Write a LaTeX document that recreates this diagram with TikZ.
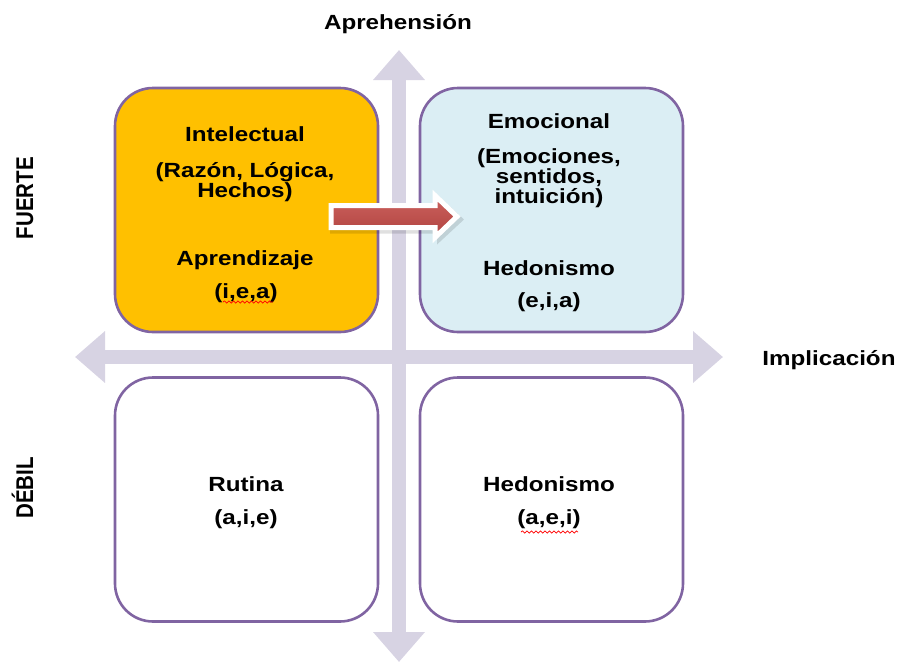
\documentclass[tikz,border=0pt]{standalone}
\usepackage{fontspec}
\setmainfont{Liberation Sans}[FakeStretch=1.18]
\newfontfamily\plainsans{Liberation Sans}
\usetikzlibrary{arrows.meta,decorations.pathmorphing}

\definecolor{boxline}{RGB}{128,100,162}
\definecolor{gold}{RGB}{255,192,0}
\definecolor{paleblue}{RGB}{219,238,244}
\definecolor{axisgray}{RGB}{215,211,227}
\definecolor{arrowred}{RGB}{192,80,77}
\definecolor{arrowredtop}{RGB}{204,98,94}
\definecolor{arrowredbot}{RGB}{176,66,63}

\tikzset{
  quad/.style={draw=boxline, line width=2.6pt, rounded corners=38pt,
               minimum width=263pt, minimum height=244pt, inner sep=0pt},
  txt/.style={font=\bfseries\fontsize{20.5}{22}\selectfont, anchor=base, inner sep=0pt},
  sidetxt/.style={font=\plainsans\bfseries\fontsize{20.5}{22}\selectfont,
                  rotate=90, anchor=base, inner sep=0pt},
  axis/.style={draw=axisgray, line width=14pt,
               {Triangle[length=30pt,width=50pt]}-{Triangle[length=30pt,width=50pt]}},
  squiggle/.style={draw=red, line width=0.7pt, decorate,
                   decoration={snake, amplitude=1.1pt, segment length=4.5pt}},
}

\begin{document}
\begin{tikzpicture}[x=1pt,y=-1pt]
  \useasboundingbox (0,0) rectangle (900,662);

  % the two axes
  \coordinate (vtop) at (399,50);
  \coordinate (vbot) at (399,662);
  \coordinate (hleft) at (75,357);
  \coordinate (hright) at (723,357);
  \draw[axis] (vtop) -- (vbot);
  \draw[axis] (hleft) -- (hright);

  % the four quadrants
  \node[quad, fill=gold]     (tl) at (246.5,210) {};
  \node[quad, fill=paleblue] (tr) at (551.5,210) {};
  \node[quad, fill=white]    (bl) at (246.5,499.5) {};
  \node[quad, fill=white]    (br) at (551.5,499.5) {};

  % axis labels
  \node[txt] (aprehension) at (398,29) {Aprehensión};
  \node[txt] (implicacion) at (829,365) {Implicación};
  \node[sidetxt] (fuerte) at (33,198) {\scalebox{1}[1.18]{FUERTE}};
  \node[sidetxt] (debil)  at (33,488) {\scalebox{1}[1.18]{DÉBIL}};

  % upper left quadrant
  \node[txt] (intel) at (245,141) {Intelectual};
  \node[txt] (razon) at (245,177) {(Razón, Lógica,};
  \node[txt] (hechos) at (245,197) {Hechos)};
  \node[txt] (aprend) at (245,265) {Aprendizaje};
  \node[txt] (iea) at (246,298) {(i,e,a)};

  % upper right quadrant
  \node[txt] (emoc) at (549,128) {Emocional};
  \node[txt] (emociones) at (549,163) {(Emociones,};
  \node[txt] (sentidos) at (549,183) {sentidos,};
  \node[txt] (intuicion) at (549,203) {intuición)};
  \node[txt] (hedon1) at (549,275) {Hedonismo};
  \node[txt] (eia) at (549,307) {(e,i,a)};

  % lower quadrants
  \node[txt] (rutina) at (246,491) {Rutina};
  \node[txt] (aie) at (246,524) {(a,i,e)};
  \node[txt] (hedon2) at (549,491) {Hedonismo};
  \node[txt] (aei) at (549,524) {(a,e,i)};

  % spelling marks under two of the codes
  \coordinate (sq1a) at (223,302);
  \coordinate (sq1b) at (273,302);
  \coordinate (sq2a) at (521,532);
  \coordinate (sq2b) at (578,532);
  \draw[squiggle] (sq1a) -- (sq1b);
  \draw[squiggle] (sq2a) -- (sq2b);

  % block arrow from the rational to the emotional quadrant
  \coordinate (ra) at (331,216.5);
  \fill[black, opacity=0.12, shift={(ra)}, xshift=2pt, yshift=-3pt]
    (-3,-14) -- (104,-14) -- (104,-25) -- (131,0) -- (104,25) -- (104,14) -- (-3,14) -- cycle;
  \draw[white, line width=5pt, line join=miter, top color=arrowredtop,
        bottom color=arrowredbot, shift={(ra)}]
    (0,-11) -- (104,-11) -- (104,-21) -- (126,0) -- (104,21) -- (104,11) -- (0,11) -- cycle;
\end{tikzpicture}
\end{document}
